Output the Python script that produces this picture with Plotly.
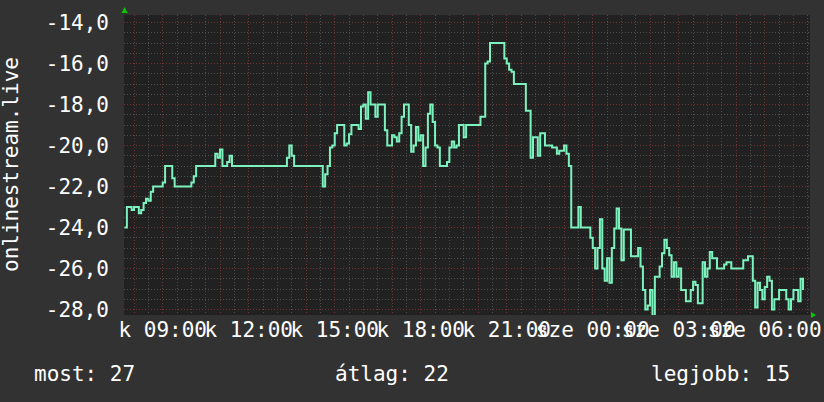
import plotly.graph_objects as go

# time of each change point, minutes after Tuesday 00:00 (5-minute samples)
minutes = [460, 465, 475, 480, 490, 495, 500, 505, 510, 515, 520, 540, 545, 560, 565,
           600, 605, 610, 650, 655, 660, 665, 675, 680, 685, 800, 805, 810, 815, 875,
           880, 885, 890, 895, 900, 905, 920, 925, 930, 935, 950, 955, 960, 965, 970,
           975, 985, 990, 1005, 1010, 1020, 1025, 1030, 1035, 1040, 1045, 1055, 1060, 1065,
           1070, 1075, 1080, 1085, 1090, 1095, 1100, 1105, 1110, 1115, 1120, 1135, 1140, 1145,
           1150, 1155, 1160, 1170, 1175, 1205, 1215, 1220, 1225, 1255, 1260, 1265, 1270, 1275,
           1300, 1310, 1315, 1325, 1330, 1340, 1355, 1365, 1370, 1380, 1385, 1390, 1395, 1410,
           1415, 1435, 1440, 1445, 1450, 1455, 1460, 1465, 1470, 1475, 1480, 1485, 1490, 1495,
           1500, 1505, 1520, 1535, 1540, 1545, 1550, 1555, 1560, 1565, 1570, 1580, 1585, 1590,
           1595, 1600, 1605, 1610, 1615, 1620, 1625, 1635, 1645, 1650, 1655, 1660, 1670, 1675,
           1680, 1685, 1690, 1700, 1715, 1720, 1730, 1755, 1765, 1775, 1780, 1785, 1790, 1795,
           1800, 1805, 1810, 1815, 1820, 1830, 1845, 1850, 1855, 1860, 1870, 1875, 1880]
values = [-24, -23, -23.15, -23, -23.3, -23.15, -22.8, -22.6, -22.7, -22.25, -22, -21.8, -21, -21.6, -22,
          -21.8, -21.5, -21, -20.4, -20.6, -20.2, -21, -20.8, -20.5, -21, -20.6, -20, -20.5, -21, -22,
          -21.4, -21, -20.1, -20, -19.4, -19, -20, -19.9, -19.45, -19, -19.2, -18.1, -18, -18.7, -17.4,
          -18, -18.6, -18, -19.25, -20, -19.5, -19.6, -19.8, -19.4, -18.6, -18, -19, -20.3, -20,
          -19.1, -19.75, -19.5, -21, -20.1, -18.45, -18, -18.85, -20, -20.1, -21, -20.8, -20.1, -19.8,
          -20.1, -20, -19, -19.6, -19, -18.6, -16, -15.9, -15, -15.75, -16, -16.3, -16.4, -17,
          -18.3, -20.6, -19.6, -20.5, -19.4, -20, -20.1, -20.4, -20.25, -20, -20.4, -21, -24, -23,
          -24, -24.5, -25, -26, -25, -23.6, -26, -26.6, -25.5, -26.7, -25, -24.05, -23.07, -24.05,
          -25.6, -24.1, -25.4, -25, -25.9, -27.05, -28, -27.8, -27.05, -28.3, -26.4, -25.9, -25.25, -24.6,
          -25, -25.35, -26.4, -25.7, -26.4, -26, -27.05, -27.6, -27.05, -26.65, -26.8, -27.7, -25.7, -26.4,
          -26, -25.2, -25.5, -26, -25.8, -25.7, -26, -25.6, -25.4, -26.6, -27.9, -26.7, -27.05, -27.5,
          -26.9, -26.4, -26.6, -28, -27.5, -27.05, -27.5, -28, -27.5, -27.05, -27.6, -26.5, -27.05]

x_label_minutes = [540, 720, 900, 1080, 1260, 1440, 1620, 1800]
x_labels = ["k 09:00", "k 12:00", "k 15:00", "k 18:00", "k 21:00",
            "sze 00:00", "sze 03:00", "sze 06:00"]
hour_grid = list(range(480, 1900, 60))
y_ticks = [-14, -16, -18, -20, -22, -24, -26, -28]
y_labels = ["-14,0", "-16,0", "-18,0", "-20,0", "-22,0", "-24,0", "-26,0", "-28,0"]
series_name = "onlinestream.live"
legend_texts = ["most: 27", "átlag: 22", "legjobb: 15"]

FONT = "DejaVu Sans Mono"
BG = "#323232"
PLOT_BG = "#212121"
MINOR = "#4f4f4f"
MAJOR = "#6e3434"
LINE = "#7cf2be"

label_map = dict(zip(x_label_minutes, x_labels))
hour_text = [label_map.get(m, "") for m in hour_grid]

fig = go.Figure()
fig.add_trace(go.Scatter(x=minutes, y=values, mode="lines", line_shape="hv",
                         line=dict(color=LINE, width=2), hoverinfo="skip",
                         showlegend=False))

fig.update_layout(
    width=824, height=402,
    margin=dict(l=124, r=14, t=15, b=87),
    paper_bgcolor=BG, plot_bgcolor=PLOT_BG,
    font=dict(family=FONT, size=21, color="white"),
    showlegend=False,
    xaxis=dict(range=[459, 1894.7], tickmode="array", tickvals=hour_grid, ticktext=hour_text,
               tickangle=0, showgrid=True, gridcolor=MAJOR, griddash="1px,2px", gridwidth=1,
               minor=dict(tickmode="linear", tick0=0, dtick=30, showgrid=True,
                          gridcolor=MINOR, griddash="1px,2px", gridwidth=1),
               zeroline=False, showline=False, ticks="", ticklabelstandoff=0,
               automargin=False,
               tickfont=dict(family=FONT, size=21, color="white")),
    yaxis=dict(range=[-28.268, -13.634], tickmode="array", tickvals=y_ticks, ticktext=y_labels,
               showgrid=True, gridcolor=MAJOR, griddash="1px,2px", gridwidth=1,
               minor=dict(tickmode="linear", tick0=-14, dtick=0.5, showgrid=True,
                          gridcolor=MINOR, griddash="1px,2px", gridwidth=1),
               zeroline=False, showline=False, ticks="", ticklabelstandoff=14,
               automargin=False,
               tickfont=dict(family=FONT, size=21, color="white")),
)

def px(xp):
    return (xp - 124) / 686

def py(yp):
    return (315 - yp) / 300

fig.add_annotation(text=series_name, xref="paper", yref="paper", x=px(11), y=0.5,
                   textangle=-90, showarrow=False, xanchor="center", yanchor="middle",
                   font=dict(family=FONT, size=21, color="white"))
fig.add_annotation(text=legend_texts[0], xref="paper", yref="paper", x=px(32), y=py(374),
                   xanchor="left", yanchor="middle", showarrow=False)
fig.add_annotation(text=legend_texts[1], xref="paper", yref="paper", x=px(333), y=py(374),
                   xanchor="left", yanchor="middle", showarrow=False)
fig.add_annotation(text=legend_texts[2], xref="paper", yref="paper", x=px(792), y=py(374),
                   xanchor="right", yanchor="middle", showarrow=False)

# small green axis arrows
fig.add_shape(type="path", xref="paper", yref="paper",
              path=f"M {px(121.5)} {py(13)} L {px(127.5)} {py(13)} L {px(124.5)} {py(7)} Z",
              fillcolor="#00cc00", line=dict(width=0))
fig.add_shape(type="path", xref="paper", yref="paper",
              path=f"M {px(811)} {py(312)} L {px(811)} {py(318)} L {px(816)} {py(315)} Z",
              fillcolor="#00cc00", line=dict(width=0))

fig.write_html("out.html", config={"displayModeBar": False},
               post_script="document.body.style.margin='0';document.body.style.overflow='hidden';")
